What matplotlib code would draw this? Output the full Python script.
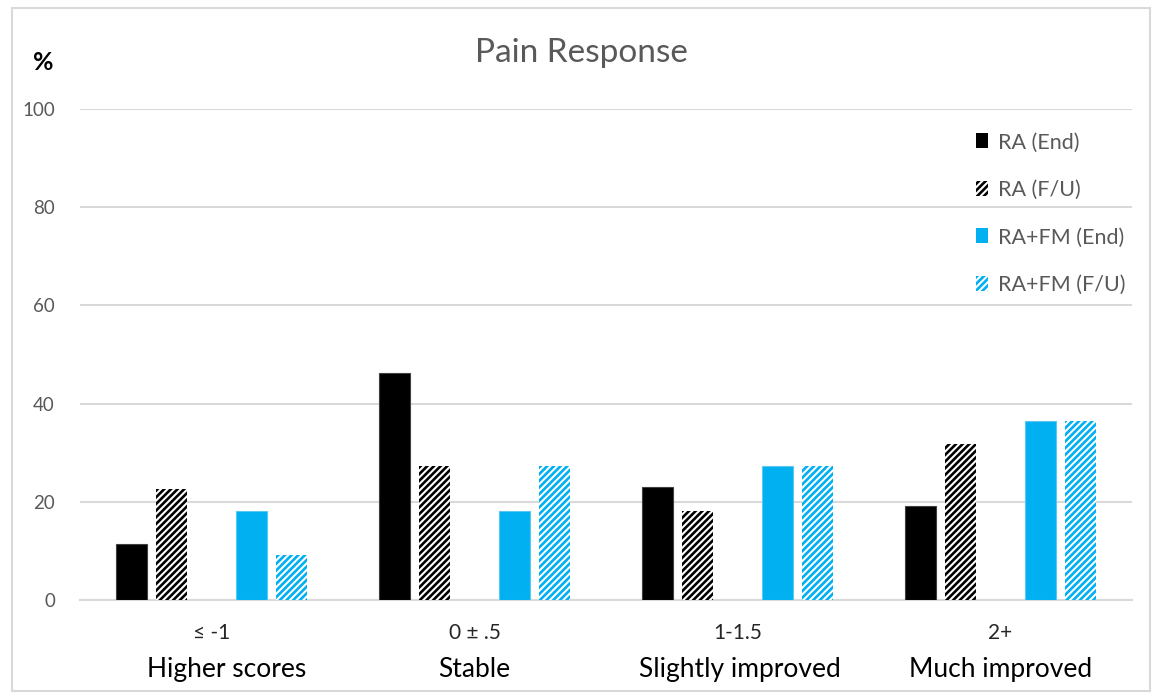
import matplotlib
matplotlib.use("Agg")
import matplotlib.pyplot as plt
from matplotlib.patches import Patch, Rectangle
import numpy as np

# Data
ranges = ["\u2264 -1", "0 \u00b1 .5", "1-1.5", "2+"]
groups = ["Higher scores", "Stable", "Slightly improved", "Much improved"]
series_names = ["RA (End)", "RA (F/U)", "RA+FM (End)", "RA+FM (F/U)"]
ra_end = [11.5, 46.2, 23.1, 19.2]
ra_fu = [22.7, 27.3, 18.2, 31.8]
rafm_end = [18.2, 18.2, 27.3, 36.4]
rafm_fu = [9.1, 27.3, 27.3, 36.4]

BLUE = "#00B0F0"
GRID = "#D9D9D9"
TXT = "#595959"
HATCH = "/////"

plt.rcParams['font.family'] = ['Lato', 'DejaVu Sans']
plt.rcParams['hatch.linewidth'] = 1.9

fig = plt.figure(figsize=(11.52, 6.93), dpi=100)
ax = fig.add_axes([80 / 1152, 93 / 693, (1132 - 80) / 1152, (600 - 109) / 693])

x = np.arange(len(ranges))
slot = 0.152
width = 0.118
# five slots per group; the middle slot stays empty
offsets = [-2 * slot, -1 * slot, 1 * slot, 2 * slot]
styles = [
    dict(color="black", edgecolor="#404040", linewidth=0.8),
    dict(facecolor="white", edgecolor="black", hatch=HATCH, linewidth=0),
    dict(color=BLUE, edgecolor="#5cc8f0", linewidth=0.8),
    dict(facecolor="white", edgecolor=BLUE, hatch=HATCH, linewidth=0),
]
values = [ra_end, ra_fu, rafm_end, rafm_fu]
for off, vals, st in zip(offsets, values, styles):
    ax.bar(x + off, vals, width, zorder=3, **st)

ax.set_xlim(-0.5, len(ranges) - 0.5)
ax.set_ylim(0, 100)
ax.set_yticks(range(0, 101, 20))
ax.yaxis.grid(True, color=GRID, linewidth=1.5, zorder=0)
ax.set_axisbelow(True)
for s in ["left", "right", "top"]:
    ax.spines[s].set_visible(False)
ax.spines["bottom"].set_color(GRID)
ax.spines["bottom"].set_linewidth(1.5)
ax.tick_params(axis="both", length=0)
ax.tick_params(axis="y", labelsize=13.5, labelcolor=TXT, pad=18)
ax.set_xticks(x)
ax.set_xticklabels([])

# second-line captions sit slightly off the category centre in places
group_shift = [0.057, 0.0, 0.01, 0.0]
for xi, r, g, dx in zip(x, ranges, groups, group_shift):
    ax.text(xi, -6.8, r, ha="center", va="center", fontsize=15, color="#262626",
            transform=ax.transData, clip_on=False)
    ax.text(xi + dx, -14.2, g, ha="center", va="center", fontsize=19, color="black",
            transform=ax.transData, clip_on=False)

fig.text(581 / 1152, 1 - 53 / 693, "Pain Response", ha="center", va="center",
         fontsize=24, color=TXT)
fig.text(43 / 1152, 1 - 63 / 693, "%", ha="center", va="center",
         fontsize=18, fontweight="bold", color="black")

handles = [
    Patch(facecolor="black", edgecolor="black", linewidth=0),
    Patch(facecolor="white", edgecolor="black", hatch=HATCH, linewidth=0),
    Patch(facecolor=BLUE, edgecolor=BLUE, linewidth=0),
    Patch(facecolor="white", edgecolor=BLUE, hatch=HATCH, linewidth=0),
]
leg = ax.legend(handles, series_names, loc="upper left",
                bbox_to_anchor=(957 / 1152, 1 - 113 / 693),
                bbox_transform=fig.transFigure, frameon=False,
                fontsize=15.5, labelcolor=TXT, handlelength=0.55, handleheight=0.7,
                handletextpad=0.45, labelspacing=1.28)

# light frame around the chart
fig.patches.append(Rectangle((12 / 1152, 2 / 693), 1138 / 1152, 683 / 693,
                             transform=fig.transFigure, fill=False,
                             edgecolor=GRID, linewidth=1.5))

fig.savefig("out.png", dpi=100, facecolor="white")
